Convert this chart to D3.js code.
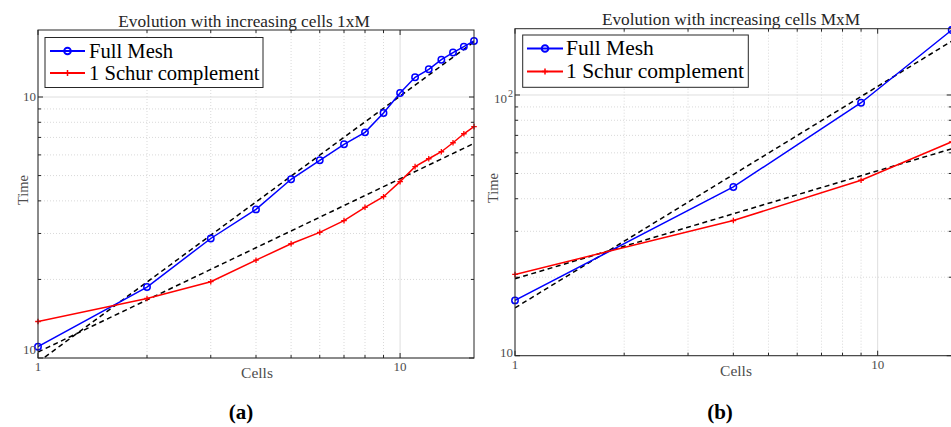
<!DOCTYPE html>
<html>
<head>
<meta charset="utf-8">
<script src="https://cdn.jsdelivr.net/npm/d3@7"></script>
<style>
  body { margin: 0; background: #fff; }
  svg { display: block; }
</style>
</head>
<body>
<script>
// ---- data ----
var cells1xM = [1, 2, 3, 4, 5, 6, 7, 8, 9, 10, 11, 12, 13, 14, 15, 16];
var fullMesh1xM = [1.105, 1.87, 2.87, 3.71, 4.84, 5.72, 6.59, 7.32, 8.68, 10.36, 11.9, 12.77, 13.9, 14.8, 15.6, 16.4];
var schur1xM = [1.38, 1.69, 1.96, 2.37, 2.74, 3.03, 3.36, 3.78, 4.15, 4.74, 5.41, 5.80, 6.17, 6.68, 7.23, 7.70];

var cellsMxM = [1, 4, 9, 16];
var fullMeshMxM = [16.3, 44.4, 93.4, 177.5];
var schurMxM = [20.5, 33.0, 47.1, 66.1];

var seriesNames = ["Full Mesh", "1 Schur complement"];
var xTickVals = [1, 10];
var xTickText = ["1", "10"];
var yTickVals1xM = [1, 10];
var yTickText1xM = ["10", "10"];
var yTickSup1xM = ["", ""];
var yTickValsMxM = [10, 100];
var yTickTextMxM = ["10", "10"];
var yTickSupMxM = ["", "2"];

var svg = d3.select("body").append("svg")
    .attr("width", 951)
    .attr("height", 427)

svg.append("rect").attr("width", 951).attr("height", 427).attr("fill", "#fff")

var serif = "'Liberation Serif', 'Times New Roman', serif";
var axisColor = "#262626";
var labelColor = "#4d4d4d";

// least squares power law fit in log-log space
function powerFit(xs, ys) {
    var lx = xs.map(Math.log10), ly = ys.map(Math.log10);
    var mx = d3.mean(lx), my = d3.mean(ly);
    var sxy = d3.sum(lx, function(v, i) { return (v - mx) * (ly[i] - my); });
    var sxx = d3.sum(lx, function(v) { return (v - mx) * (v - mx); });
    var b = sxy / sxx;
    var a = my - b * mx;
    return function(x) { return Math.pow(10, a + b * Math.log10(x)); };
}

function drawPanel(cfg) {
    var g = svg.append("g");
    var x = d3.scaleLog().domain(cfg.xDomain).range([cfg.left, cfg.right]);
    var y = d3.scaleLog().domain(cfg.yDomain).range([cfg.bottom, cfg.top]);

    var xMinor = d3.range(2, 10);
    var yMinor = d3.range(2, 10).map(function(d) { return d * cfg.yDomain[0]; });
    var xMajor = xTickVals;
    var yMajor = cfg.yTickVals;

    // grid
    g.selectAll(".xminor").data(xMinor).enter().append("line")
        .attr("x1", x).attr("x2", x)
        .attr("y1", cfg.top).attr("y2", cfg.bottom)
        .attr("stroke", "#cfcfcf").attr("stroke-width", 0.8)
        .attr("stroke-dasharray", "1,2");
    g.selectAll(".yminor").data(yMinor).enter().append("line")
        .attr("y1", y).attr("y2", y)
        .attr("x1", cfg.left).attr("x2", cfg.right)
        .attr("stroke", "#cfcfcf").attr("stroke-width", 0.8)
        .attr("stroke-dasharray", "1,2");
    g.selectAll(".xmajor").data(xMajor).enter().append("line")
        .attr("x1", x).attr("x2", x)
        .attr("y1", cfg.top).attr("y2", cfg.bottom)
        .attr("stroke", "#dedede").attr("stroke-width", 1);
    g.selectAll(".ymajor").data(yMajor).enter().append("line")
        .attr("y1", y).attr("y2", y)
        .attr("x1", cfg.left).attr("x2", cfg.right)
        .attr("stroke", "#dedede").attr("stroke-width", 1);

    // ticks on all four sides, pointing inward
    function tickX(vals, len) {
        vals.forEach(function(v) {
            g.append("line").attr("x1", x(v)).attr("x2", x(v))
                .attr("y1", cfg.bottom).attr("y2", cfg.bottom - len)
                .attr("stroke", axisColor);
            g.append("line").attr("x1", x(v)).attr("x2", x(v))
                .attr("y1", cfg.top).attr("y2", cfg.top + len)
                .attr("stroke", axisColor);
        });
    }
    function tickY(vals, len) {
        vals.forEach(function(v) {
            g.append("line").attr("y1", y(v)).attr("y2", y(v))
                .attr("x1", cfg.left).attr("x2", cfg.left + len)
                .attr("stroke", axisColor);
            g.append("line").attr("y1", y(v)).attr("y2", y(v))
                .attr("x1", cfg.right).attr("x2", cfg.right - len)
                .attr("stroke", axisColor);
        });
    }
    tickX(xMinor, 3); tickX(xMajor, 5);
    tickY(yMinor, 3); tickY(yMajor, 5);

    // data, clipped to the axes
    var clipId = "clip" + cfg.id;
    svg.append("clipPath").attr("id", clipId).append("rect")
        .attr("x", cfg.left).attr("y", cfg.top)
        .attr("width", cfg.right - cfg.left).attr("height", cfg.bottom - cfg.top);
    var plot = g.append("g").attr("clip-path", "url(#" + clipId + ")");

    var line = d3.line().x(function(d) { return x(d[0]); }).y(function(d) { return y(d[1]); });

    var fullPts = d3.zip(cfg.cells, cfg.full);
    var schurPts = d3.zip(cfg.cells, cfg.schur);

    // fitted power laws (dashed)
    [cfg.full, cfg.schur].forEach(function(ys) {
        var f = powerFit(cfg.cells, ys);
        var xs = d3.range(0, 41).map(function(i) { return Math.pow(10, Math.log10(cfg.xDomain[0]) + i / 40 * (Math.log10(cfg.xDomain[1]) - Math.log10(cfg.xDomain[0]))); });
        plot.append("path")
            .attr("d", line(xs.map(function(v) { return [v, f(v)]; })))
            .attr("fill", "none").attr("stroke", "#000")
            .attr("stroke-width", 1.5).attr("stroke-dasharray", "5,3.5");
    });

    plot.append("path").attr("d", line(fullPts))
        .attr("fill", "none").attr("stroke", "#0000ff").attr("stroke-width", 1.5);
    plot.append("path").attr("d", line(schurPts))
        .attr("fill", "none").attr("stroke", "#ff0000").attr("stroke-width", 1.5);

    var markers = g.append("g");
    markers.selectAll(".circ").data(fullPts).enter().append("circle")
        .attr("cx", function(d) { return x(d[0]); })
        .attr("cy", function(d) { return y(d[1]); })
        .attr("r", 3.2)
        .attr("fill", "none").attr("stroke", "#0000ff").attr("stroke-width", 1.5);
    markers.selectAll(".plus").data(schurPts).enter().append("path")
        .attr("d", function(d) {
            var cx = x(d[0]), cy = y(d[1]), s = 2.8;
            return "M" + (cx - s) + "," + cy + "H" + (cx + s) + "M" + cx + "," + (cy - s) + "V" + (cy + s);
        })
        .attr("stroke", "#ff0000").attr("stroke-width", 1.3);

    // box
    g.append("rect")
        .attr("x", cfg.left).attr("y", cfg.top)
        .attr("width", cfg.right - cfg.left).attr("height", cfg.bottom - cfg.top)
        .attr("fill", "none").attr("stroke", axisColor).attr("stroke-width", 1);

    // tick labels
    xTickVals.forEach(function(v, i) {
        g.append("text").attr("x", x(v)).attr("y", cfg.bottom + 13)
            .attr("text-anchor", "middle")
            .attr("font-family", serif).attr("font-size", 13)
            .attr("fill", labelColor)
            .text(xTickText[i]);
    });
    cfg.yTickVals.forEach(function(v, i) {
        var base = y(v) + 4 + (cfg.yTickSup[i] ? 4 : 0);
        if (i === 0) base = cfg.bottom + cfg.bottomLabelShift;
        g.append("text")
            .attr("x", cfg.left - 2 - (cfg.yTickSup[i] ? 6 : 0)).attr("y", base)
            .attr("text-anchor", "end")
            .attr("font-family", serif).attr("font-size", 13)
            .attr("fill", labelColor)
            .text(cfg.yTickText[i]);
        if (cfg.yTickSup[i]) {
            g.append("text")
                .attr("x", cfg.left - 7).attr("y", base - 6)
                .attr("font-family", serif).attr("font-size", 10)
                .attr("fill", labelColor)
                .text(cfg.yTickSup[i]);
        }
    });

    // title and axis labels
    g.append("text").attr("x", cfg.titleX).attr("y", cfg.titleY)
        .attr("text-anchor", "middle")
        .attr("font-family", serif).attr("font-size", 17.3)
        .attr("fill", "#262626")
        .text(cfg.title);
    g.append("text").attr("x", cfg.xlabelX).attr("y", cfg.xlabelY)
        .attr("text-anchor", "middle")
        .attr("font-family", serif).attr("font-size", 15.5)
        .attr("fill", labelColor)
        .text("Cells");
    g.append("text")
        .attr("transform", "translate(" + cfg.ylabelX + "," + cfg.ylabelY + ") rotate(-90)")
        .attr("text-anchor", "middle")
        .attr("font-family", serif).attr("font-size", 14.5)
        .attr("fill", labelColor)
        .text("Time");

    // legend
    var L = cfg.legend;
    var lg = g.append("g");
    lg.append("rect").attr("x", L.x).attr("y", L.y).attr("width", L.w).attr("height", L.h)
        .attr("fill", "#fff").attr("stroke", axisColor).attr("stroke-width", 1);
    var rows = [L.row1, L.row2];
    var cols = ["#0000ff", "#ff0000"];
    seriesNames.forEach(function(name, i) {
        var ry = rows[i];
        lg.append("line").attr("x1", L.x0).attr("x2", L.x1).attr("y1", ry).attr("y2", ry)
            .attr("stroke", cols[i]).attr("stroke-width", 2);
        var mx = (L.x0 + L.x1) / 2;
        if (i === 0) {
            lg.append("circle").attr("cx", mx).attr("cy", ry).attr("r", 3.3)
                .attr("fill", "none").attr("stroke", cols[i]).attr("stroke-width", 2);
        } else {
            lg.append("path").attr("d", "M" + (mx - 3) + "," + ry + "H" + (mx + 3) + "M" + mx + "," + (ry - 3) + "V" + (ry + 3))
                .attr("stroke", cols[i]).attr("stroke-width", 1.5);
        }
        lg.append("text").attr("x", L.tx).attr("y", ry + 6.5)
            .attr("font-family", serif).attr("font-size", L.fs)
            .attr("fill", "#000")
            .text(name);
    });

    // caption
    svg.append("text").attr("x", cfg.capX).attr("y", 419)
        .attr("text-anchor", "middle")
        .attr("font-family", serif).attr("font-size", 21).attr("font-weight", "bold")
        .attr("fill", "#000")
        .text(cfg.caption);
}

drawPanel({
    id: "a", left: 38, right: 474, top: 30, bottom: 358,
    xDomain: [1, 16], yDomain: [1, 18.06],
    cells: cells1xM, full: fullMesh1xM, schur: schur1xM,
    yTickVals: yTickVals1xM, yTickText: yTickText1xM, yTickSup: yTickSup1xM,
    bottomLabelShift: -4.5,
    title: "Evolution with increasing cells 1xM", titleX: 244, titleY: 27,
    xlabelX: 257, xlabelY: 378, ylabelX: 28, ylabelY: 190,
    legend: { x: 45, y: 37.5, w: 218, h: 50, row1: 51, row2: 73, x0: 50, x1: 85, tx: 89, fs: 20.6 },
    caption: "(a)", capX: 241
});

drawPanel({
    id: "b", left: 515, right: 951.7, top: 28.7, bottom: 355.7,
    xDomain: [1, 16], yDomain: [10, 179.6],
    cells: cellsMxM, full: fullMeshMxM, schur: schurMxM,
    yTickVals: yTickValsMxM, yTickText: yTickTextMxM, yTickSup: yTickSupMxM,
    bottomLabelShift: 1.3,
    title: "Evolution with increasing cells MxM", titleX: 731, titleY: 25,
    xlabelX: 736, xlabelY: 376, ylabelX: 498, ylabelY: 188,
    legend: { x: 522.7, y: 35, w: 225.6, h: 52.3, row1: 48.5, row2: 71.5, x0: 527, x1: 563, tx: 566, fs: 21.5 },
    caption: "(b)", capX: 720
});
</script>
</body>
</html>
